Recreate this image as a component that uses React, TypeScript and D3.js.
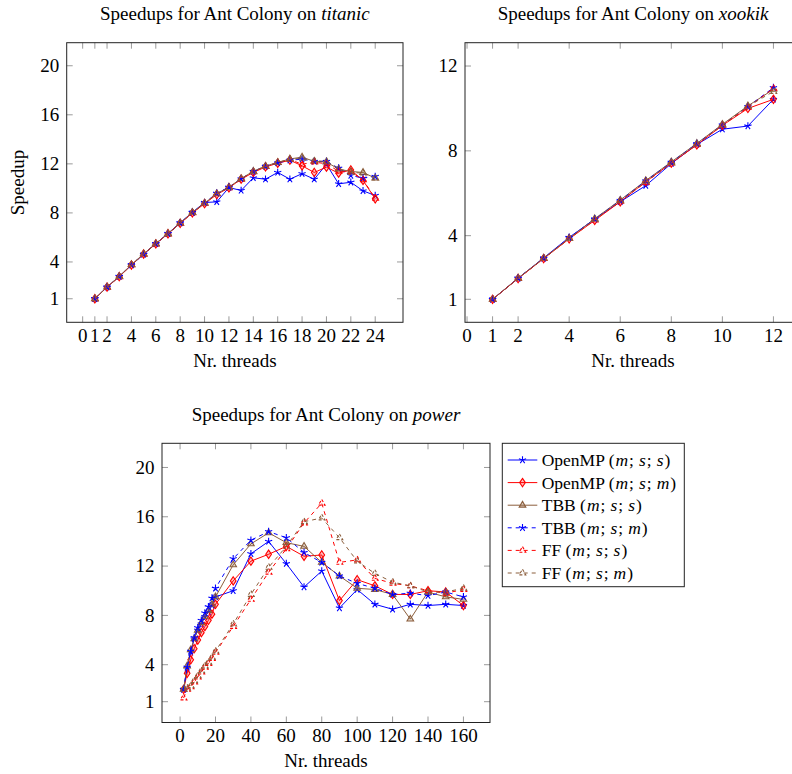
import React from "react";
import * as d3 from "d3";

// series: name + last mode letter of (m; s; ?)
const seriesNames = ["OpenMP", "OpenMP", "TBB", "TBB", "FF", "FF"];
const seriesModes = ["s", "m", "s", "m", "s", "m"];

// titanic
const titanicThreads = [1, 2, 3, 4, 5, 6, 7, 8, 9, 10, 11, 12, 13, 14, 15, 16, 17, 18, 19, 20, 21, 22, 23, 24];
const titanicSpeedup = [
  [1, 1.95, 2.82, 3.75, 4.62, 5.5, 6.32, 7.2, 8.05, 8.85, 8.9, 10.07, 9.83, 10.86, 10.75, 11.3, 10.75, 11.2, 10.75, 11.97, 10.37, 10.5, 9.8, 9.42],
  [1, 1.95, 2.8, 3.75, 4.65, 5.47, 6.3, 7.15, 8.0, 8.75, 9.5, 10.05, 10.75, 11.3, 11.75, 12.05, 12.3, 11.84, 11.3, 11.73, 11.24, 11.5, 10.65, 9.15],
  [1, 1.96, 2.83, 3.78, 4.66, 5.5, 6.32, 7.18, 8.04, 8.8, 9.57, 10.1, 10.8, 11.4, 11.82, 12.12, 12.4, 12.55, 12.2, 12.15, 11.57, 11.38, 11.3, 10.84],
  [1, 1.95, 2.82, 3.77, 4.64, 5.48, 6.3, 7.17, 8.03, 8.82, 9.6, 10.1, 10.78, 11.38, 11.8, 12.08, 12.3, 12.38, 12.2, 12.2, 11.65, 11.05, 10.84, 10.97],
  [1, 1.94, 2.8, 3.76, 4.63, 5.47, 6.28, 7.15, 8.0, 8.78, 9.55, 10.05, 10.75, 11.35, 11.78, 12.1, 12.35, 11.97, 12.15, 12.0, 11.4, 11.35, 10.7, 9.2],
  [1, 1.95, 2.82, 3.77, 4.64, 5.48, 6.3, 7.17, 8.03, 8.8, 9.56, 10.07, 10.78, 11.38, 11.8, 12.1, 12.38, 12.45, 12.25, 12.2, 11.6, 11.3, 11.25, 10.85],
];
const titanicXTicks = [0, 1, 2, 4, 6, 8, 10, 12, 14, 16, 18, 20, 22, 24];
const titanicYTicks = [1, 4, 8, 12, 16, 20];

// xookik
const xookikThreads = [1, 2, 3, 4, 5, 6, 7, 8, 9, 10, 11, 12];
const xookikSpeedup = [
  [1, 1.99, 2.95, 3.92, 4.78, 5.6, 6.36, 7.4, 8.3, 9.02, 9.17, 10.43],
  [1, 1.98, 2.92, 3.85, 4.72, 5.6, 6.55, 7.42, 8.28, 9.2, 10.0, 10.43],
  [1, 2.0, 2.94, 3.88, 4.8, 5.68, 6.6, 7.48, 8.35, 9.25, 10.12, 10.9],
  [1, 2.0, 2.93, 3.9, 4.78, 5.66, 6.58, 7.46, 8.34, 9.22, 10.08, 10.98],
  [1, 1.98, 2.92, 3.86, 4.74, 5.62, 6.52, 7.42, 8.3, 9.2, 10.05, 10.95],
  [1, 1.99, 2.93, 3.87, 4.76, 5.64, 6.55, 7.44, 8.32, 9.22, 10.1, 10.8],
];
const xookikXTicks = [0, 1, 2, 4, 6, 8, 10, 12];
const xookikYTicks = [1, 4, 8, 12];

// power
const powerThreads = [2, 4, 6, 8, 10, 12, 14, 16, 18, 20, 30, 40, 50, 60, 70, 80, 90, 100, 110, 120, 130, 140, 150, 160];
const powerSpeedup = [
  [2.0, 3.7, 5.0, 6.1, 6.8, 7.3, 7.9, 8.3, 8.8, 9.5, 10.0, 13.0, 14.0, 12.2, 10.3, 11.6, 8.6, 10.1, 8.9, 8.5, 8.9, 8.8, 8.9, 8.8],
  [2.0, 3.3, 4.4, 5.3, 6.0, 6.6, 7.1, 7.6, 8.1, 8.9, 10.8, 12.4, 12.96, 13.6, 12.8, 12.9, 9.2, 10.9, 10.4, 9.7, 9.7, 10.0, 9.9, 8.8],
  [2.0, 3.9, 5.2, 6.1, 6.8, 7.4, 7.9, 8.4, 8.9, 9.5, 12.1, 13.8, 14.7, 13.9, 13.6, 12.3, 11.2, 10.2, 10.1, 9.7, 7.7, 9.9, 9.5, 9.3],
  [2.0, 3.8, 5.1, 6.2, 7.0, 7.6, 8.2, 8.7, 9.4, 10.2, 12.6, 14.1, 14.8, 14.3, 13.1, 12.3, 11.2, 10.6, 10.2, 9.7, 9.8, 9.6, 9.9, 9.5],
  [1.3, 2.0, 2.2, 2.6, 3.0, 3.4, 3.8, 4.1, 4.5, 5.0, 7.1, 9.3, 11.5, 13.4, 15.5, 17.1, 12.3, 12.5, 11.0, 10.6, 10.4, 10.0, 9.8, 10.1],
  [2.0, 2.1, 2.3, 2.7, 3.1, 3.5, 3.9, 4.2, 4.6, 5.1, 7.3, 9.7, 11.9, 13.6, 15.6, 15.9, 14.3, 12.4, 11.4, 10.7, 10.4, 9.9, 9.9, 10.2],
];
const powerXTicks = [0, 20, 40, 60, 80, 100, 120, 140, 160];
const powerYTicks = [1, 4, 8, 12, 16, 20];

const BLUE = "#0000ff";
const RED = "#ff0000";
const BROWN = "#8b5e3c";
const styles = [
  { color: BLUE, dash: null, mark: "star" },
  { color: RED, dash: null, mark: "diamond" },
  { color: BROWN, dash: null, mark: "triangle" },
  { color: BLUE, dash: "4,4", mark: "star" },
  { color: RED, dash: "4,4", mark: "triangle" },
  { color: BROWN, dash: "4,4", mark: "triangle" },
];

const FONT = "'Liberation Serif', 'Times New Roman', serif";
const FS = 19;

function markPath(kind: string, r = 3.8) {
  if (kind === "star") {
    let p = "";
    for (let k = 0; k < 5; k++) {
      const a = ((-90 + 72 * k) * Math.PI) / 180;
      p += `M0,0L${(r * Math.cos(a)).toFixed(2)},${(r * Math.sin(a)).toFixed(2)}`;
    }
    return p;
  }
  if (kind === "diamond") return `M0,${-r * 1.1}L${r * 0.75},0L0,${r * 1.1}L${-r * 0.75},0Z`;
  return `M0,${-r}L${r * 0.87},${r * 0.5}L${-r * 0.87},${r * 0.5}Z`;
}

function Marker({ x, y, s }: any) {
  return (
    <path
      d={markPath(s.mark)}
      transform={`translate(${x},${y})`}
      stroke={s.color}
      strokeWidth={1.1}
      fill={s.mark === "star" ? "none" : s.color}
      fillOpacity={s.dash ? 0 : 0.25}
      strokeDasharray={s.dash && s.mark !== "star" ? "3,2" : undefined}
    />
  );
}

function Panel({ frame, xDomain, yDomain, xTicks, yTicks, threads, speedup, machine, yLabel }: any) {
  const x = d3.scaleLinear().domain(xDomain).range([frame.x0, frame.x1]);
  const y = d3.scaleLinear().domain(yDomain).range([frame.y1, frame.y0]);
  const line = d3
    .line<number>()
    .x((_, i) => x(threads[i]))
    .y((d) => y(d));
  const tl = 6;
  const cx = (frame.x0 + frame.x1) / 2;
  const clipId = `clip-${machine}`;
  return (
    <g fontFamily={FONT} fontSize={FS}>
      <defs>
        <clipPath id={clipId}>
          <rect x={frame.x0} y={frame.y0} width={frame.x1 - frame.x0} height={frame.y1 - frame.y0} />
        </clipPath>
      </defs>
      <text x={cx} y={frame.y0 - 22.7} textAnchor="middle">
        Speedups for Ant Colony on <tspan fontStyle="italic">{machine}</tspan>
      </text>
      {xTicks.map((t: number) => (
        <g key={"x" + t}>
          <line x1={x(t)} x2={x(t)} y1={frame.y1} y2={frame.y1 - tl} stroke="#9a9a9a" />
          <line x1={x(t)} x2={x(t)} y1={frame.y0} y2={frame.y0 + tl} stroke="#9a9a9a" />
          <text x={x(t)} y={frame.y1 + 19.7} textAnchor="middle">
            {t}
          </text>
        </g>
      ))}
      {yTicks.map((t: number) => (
        <g key={"y" + t}>
          <line x1={frame.x0} x2={frame.x0 + tl} y1={y(t)} y2={y(t)} stroke="#9a9a9a" />
          <line x1={frame.x1} x2={frame.x1 - tl} y1={y(t)} y2={y(t)} stroke="#9a9a9a" />
          <text x={frame.x0 - 7.5} y={y(t) + 6.3} textAnchor="end">
            {t}
          </text>
        </g>
      ))}
      <g clipPath={`url(#${clipId})`}>
        {speedup.map((vals: number[], si: number) => (
          <g key={si}>
            <path d={line(vals) || ""} fill="none" stroke={styles[si].color} strokeWidth={1} strokeDasharray={styles[si].dash || undefined} />
            {vals.map((v, i) => (
              <Marker key={i} x={x(threads[i])} y={y(v)} s={styles[si]} />
            ))}
          </g>
        ))}
      </g>
      <rect x={frame.x0} y={frame.y0} width={frame.x1 - frame.x0} height={frame.y1 - frame.y0} fill="none" stroke="#222" strokeWidth={1} />
      <text x={cx} y={frame.y1 + 44.7} textAnchor="middle">
        Nr. threads
      </text>
      {yLabel && (
        <text transform={`translate(${frame.x0 - 43},${(frame.y0 + frame.y1) / 2}) rotate(-90)`} textAnchor="middle">
          {yLabel}
        </text>
      )}
    </g>
  );
}

function Legend({ x0, y0, x1, y1 }: any) {
  const rowH = 22.6;
  return (
    <g fontFamily={FONT} fontSize={17.5}>
      <rect x={x0} y={y0} width={x1 - x0} height={y1 - y0} fill="#fff" stroke="#222" strokeWidth={1} />
      {seriesNames.map((n, i) => {
        const cy = y0 + 16.7 + i * rowH;
        const s = styles[i];
        return (
          <g key={i}>
            <line x1={x0 + 5.4} x2={x0 + 35} y1={cy} y2={cy} stroke={s.color} strokeDasharray={s.dash || undefined} />
            <Marker x={x0 + 20.2} y={cy} s={s} />
            <text x={x0 + 39.4} y={cy + 6}>
              {n} (<tspan fontStyle="italic" dx={1}>m</tspan>
              <tspan dx={1}>;</tspan>
              <tspan fontStyle="italic" dx={5}>s</tspan>
              <tspan dx={1}>;</tspan>
              <tspan fontStyle="italic" dx={5}>{seriesModes[i]}</tspan>
              <tspan dx={1}>)</tspan>
            </text>
          </g>
        );
      })}
    </g>
  );
}

export default function App() {
  return (
    <div style={{ position: "absolute", left: 0, top: 0 }}>
      <svg width={792} height={774} style={{ display: "block", background: "#fff" }}>
        <Panel
          frame={{ x0: 66.7, x1: 403, y0: 42.7, y1: 322.3 }}
          xDomain={[-1.31, 26.28]}
          yDomain={[-0.92, 21.88]}
          xTicks={titanicXTicks}
          yTicks={titanicYTicks}
          threads={titanicThreads}
          speedup={titanicSpeedup}
          machine="titanic"
          yLabel="Speedup"
        />
        <Panel
          frame={{ x0: 465, x1: 801, y0: 42.7, y1: 322.3 }}
          xDomain={[-0.08, 13.08]}
          yDomain={[-0.085, 13.1]}
          xTicks={xookikXTicks}
          yTicks={xookikYTicks}
          threads={xookikThreads}
          speedup={xookikSpeedup}
          machine="xookik"
        />
        <Panel
          frame={{ x0: 162, x1: 490, y0: 443.3, y1: 722.5 }}
          xDomain={[-10.2, 175]}
          yDomain={[-0.687, 21.96]}
          xTicks={powerXTicks}
          yTicks={powerYTicks}
          threads={powerThreads}
          speedup={powerSpeedup}
          machine="power"
        />
        <Legend x0={502.3} y0={443.3} x1={684.3} y1={586.7} />
      </svg>
    </div>
  );
}
